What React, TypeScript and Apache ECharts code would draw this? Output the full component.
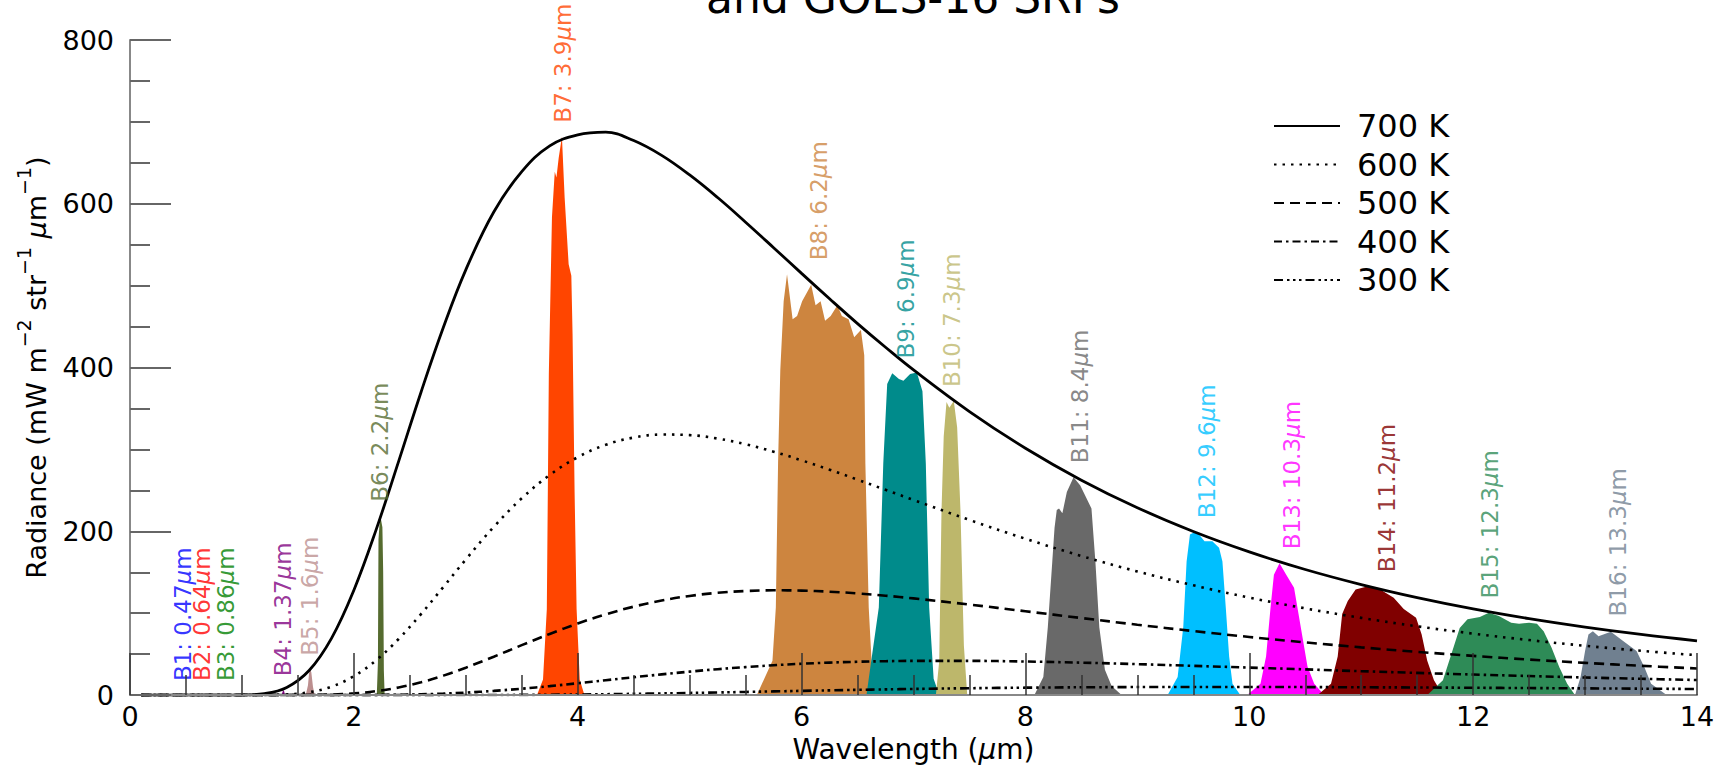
import React, { useEffect, useRef } from "react";
import * as echarts from "echarts";

const FONT = "DejaVu Sans";

// Planck curves (wavelength in µm, radiance)
const wavelength = [0.1, 0.5, 0.8, 1.0, 1.2, 1.4, 1.6, 1.8, 2.0, 2.2, 2.4, 2.6, 2.8, 3.0, 3.25, 3.5, 3.75, 4.0, 4.25, 4.5, 4.75, 5.0, 5.25, 5.5, 5.75, 6.0, 6.25, 6.5, 6.75, 7.0, 7.5, 8.0, 8.5, 9.0, 9.5, 10, 10.5, 11, 11.5, 12, 12.5, 13, 13.5, 14];
const rad700 = [0, 0, 0, 0.14, 1.75, 9.3, 30.0, 69.3, 128.1, 202.4, 285.5, 369.9, 449.1, 519.3, 589.9, 639.3, 670.7, 684.2, 687.4, 677.2, 659.1, 635.2, 607.6, 577.5, 546.4, 515.0, 484.0, 453.7, 424.8, 397.1, 346.3, 301.5, 262.5, 228.8, 199.8, 174.9, 153.4, 135.0, 119.1, 105.3, 93.4, 83.1, 74.1, 66.3];
const rad600 = [0, 0, 0, 0, 0.1, 0.81, 3.5, 10.3, 23.1, 42.7, 68.5, 99.0, 132.1, 165.6, 205.4, 240.3, 268.8, 290.5, 305.6, 314.5, 318.2, 317.5, 313.3, 306.3, 297.3, 286.7, 275.3, 263.1, 250.7, 238.3, 213.9, 190.9, 169.9, 151.0, 134.1, 119.1, 105.9, 94.3, 84.0, 75.1, 67.2, 60.2, 54.1, 48.7];
const rad500 = [0, 0, 0, 0, 0, 0.02, 0.18, 0.72, 2.1, 4.82, 9.28, 15.65, 23.8, 33.5, 46.9, 61.0, 74.7, 87.4, 98.6, 108.0, 115.5, 121.1, 124.9, 127.1, 128.0, 127.6, 126.3, 124.2, 121.4, 118.1, 110.6, 102.4, 94.1, 85.95, 78.2, 71.0, 64.4, 58.3, 52.8, 47.9, 43.4, 39.4, 35.8, 32.5];
const rad400 = [0, 0, 0, 0, 0, 0, 0, 0.01, 0.06, 0.18, 0.46, 0.98, 1.83, 3.04, 5.13, 7.81, 10.97, 14.47, 18.14, 21.8, 25.35, 28.65, 31.64, 34.2, 36.45, 38.26, 39.67, 40.7, 41.42, 41.8, 41.8, 41.0, 39.6, 37.8, 35.7, 33.6, 31.4, 29.2, 27.1, 25.1, 23.3, 21.5, 19.9, 18.4];
const rad300 = [0, 0, 0, 0, 0, 0, 0, 0, 0, 0, 0, 0, 0.03, 0.06, 0.13, 0.25, 0.45, 0.72, 1.08, 1.52, 2.03, 2.6, 3.22, 3.86, 4.52, 5.18, 5.81, 6.42, 6.98, 7.51, 8.4, 9.08, 9.55, 9.83, 9.95, 9.92, 9.79, 9.57, 9.29, 8.96, 8.6, 8.22, 7.84, 7.45];

const curveNames = ["700 K", "600 K", "500 K", "400 K", "300 K"];
const curveValues = [rad700, rad600, rad500, rad400, rad300];
const curveDash: (string | number[])[] = ["solid", [2.5, 6], [10, 6], [8, 4, 2.5, 4], [9, 4, 2.5, 3.5, 2.5, 3.5, 2.5, 4]];

// GOES-16 band responses weighted by the 700 K curve
const B1 = [[0.45, 0], [0.47, 0], [0.49, 0]];
const B2 = [[0.62, 0], [0.64, 0], [0.66, 0]];
const B3 = [[0.84, 0], [0.86, 0], [0.88, 0]];
const B4 = [[1.355, 0], [1.365, 5], [1.375, 6], [1.385, 0]];
const B5 = [[1.57, 0], [1.59, 12], [1.6, 27], [1.61, 31], [1.62, 28], [1.635, 10], [1.65, 0]];
const B6 = [[2.205, 0], [2.215, 40], [2.22, 190], [2.235, 220], [2.255, 205], [2.262, 150], [2.268, 30], [2.275, 0]];
const B7 = [[3.636, 0], [3.69, 19], [3.724, 105], [3.742, 393], [3.77, 584], [3.795, 639], [3.81, 632], [3.83, 656], [3.859, 682], [3.883, 608], [3.919, 526], [3.943, 512], [3.954, 441], [3.972, 249], [3.99, 105], [4.018, 19], [4.06, 0]];
const B8 = [[5.6, 0], [5.74, 42], [5.77, 107], [5.79, 283], [5.81, 397], [5.84, 481], [5.87, 514], [5.92, 459], [5.96, 463], [6.005, 481], [6.086, 501], [6.125, 476], [6.17, 481], [6.21, 457], [6.26, 463], [6.32, 476], [6.36, 463], [6.42, 459], [6.47, 437], [6.53, 446], [6.56, 415], [6.57, 283], [6.6, 107], [6.63, 29], [6.65, 0]];
const B9 = [[6.58, 0], [6.6, 20], [6.69, 107], [6.73, 283], [6.765, 380], [6.81, 393], [6.87, 386], [6.91, 384], [6.97, 392], [7.03, 394], [7.08, 371], [7.11, 283], [7.14, 107], [7.18, 20], [7.23, 0]];
const B10 = [[7.2, 0], [7.23, 42], [7.25, 224], [7.27, 316], [7.295, 358], [7.32, 351], [7.36, 359], [7.39, 327], [7.42, 224], [7.45, 61], [7.48, 0]];
const B11 = [[8.08, 0], [8.16, 22], [8.2, 83], [8.24, 163], [8.26, 204], [8.28, 226], [8.3, 228], [8.33, 222], [8.37, 248], [8.43, 266], [8.49, 256], [8.54, 242], [8.59, 228], [8.625, 163], [8.66, 83], [8.71, 31], [8.77, 11], [8.86, 0]];
const B12 = [[9.27, 0], [9.36, 22], [9.41, 83], [9.44, 163], [9.47, 196], [9.51, 199], [9.54, 198], [9.6, 188], [9.67, 188], [9.73, 180], [9.76, 163], [9.79, 107], [9.82, 47], [9.85, 14], [9.92, 0]];
const B13 = [[9.98, 0], [10.1, 14], [10.15, 47], [10.19, 107], [10.22, 147], [10.27, 161], [10.33, 147], [10.4, 131], [10.43, 107], [10.48, 67], [10.52, 35], [10.58, 14], [10.67, 0]];
const B14 = [[10.61, 0], [10.73, 14], [10.79, 47], [10.83, 99], [10.88, 115], [10.95, 129], [11.06, 133], [11.17, 129], [11.29, 119], [11.38, 105], [11.49, 94.5], [11.54, 74], [11.59, 42], [11.65, 18], [11.73, 0]];
const B15 = [[11.59, 0], [11.73, 18], [11.81, 52], [11.88, 82], [11.95, 92.5], [12.06, 95.4], [12.14, 100.6], [12.23, 96.6], [12.34, 88.4], [12.41, 87.2], [12.5, 88.4], [12.57, 87.2], [12.63, 78], [12.7, 58], [12.77, 34], [12.84, 14], [12.91, 0]];
const B16 = [[12.91, 0], [12.96, 22], [13.0, 54], [13.03, 74], [13.07, 78], [13.12, 72], [13.23, 77.5], [13.34, 66], [13.46, 54], [13.53, 34], [13.59, 14], [13.73, 0]];

const bandData = [B1, B2, B3, B4, B5, B6, B7, B8, B9, B10, B11, B12, B13, B14, B15, B16];
const bandColors = ["#0000FF", "#FF0000", "#008000", "#800080", "#BC8F8F", "#556B2F", "#FF4500", "#CD853F", "#008B8B", "#BDB76B", "#696969", "#00BFFF", "#FF00FF", "#800000", "#2E8B57", "#708090"];
const bandTitles = ["B1: 0.47", "B2: 0.64", "B3: 0.86", "B4: 1.37", "B5: 1.6", "B6: 2.2", "B7: 3.9", "B8: 6.2", "B9: 6.9", "B10: 7.3", "B11: 8.4", "B12: 9.6", "B13: 10.3", "B14: 11.2", "B15: 12.3", "B16: 13.3"];
const bandLabelX = [0.47, 0.64, 0.86, 1.37, 1.61, 2.235, 3.865, 6.16, 6.93, 7.34, 8.49, 9.62, 10.38, 11.23, 12.15, 13.29];
const bandLabelY = [0, 0, 0, 6, 31, 219, 682, 514, 394, 359, 266, 199, 161, 133, 101, 79];

export default function App() {
  const ref = useRef<HTMLDivElement>(null);
  useEffect(() => {
    const chart = echarts.init(ref.current as HTMLDivElement, null, { renderer: "svg" });

    const bandSeries = bandData.map((d, i) => ({
      type: "line",
      name: bandTitles[i],
      data: d,
      symbol: "none",
      smooth: false,
      lineStyle: { width: 0, color: bandColors[i] },
      itemStyle: { color: bandColors[i] },
      areaStyle: { color: bandColors[i], opacity: 1 },
      z: 2,
      silent: true,
    }));

    const curveSeries = curveNames.map((n, k) => ({
      type: "line",
      name: n,
      data: wavelength.map((w, i) => [w, curveValues[k][i]]),
      symbol: "none",
      smooth: 0.4,
      lineStyle: { color: "#000", width: k === 0 ? 2.8 : 2.6, type: curveDash[k] as any },
      itemStyle: { color: "#000" },
      z: 5,
      silent: true,
    }));

    const labelSeries = {
      type: "scatter",
      symbolSize: 0,
      silent: true,
      z: 6,
      data: bandTitles.map((t, i) => ({
        value: [bandLabelX[i], bandLabelY[i]],
        label: {
          show: true,
          position: "top",
          distance: 14,
          rotate: 90,
          align: "left",
          verticalAlign: "middle",
          color: bandColors[i],
          fontFamily: FONT,
          fontSize: 23,
          formatter: "{a|" + t + "}{i|\u00b5}{a|m}",
          rich: {
            a: { fontSize: 23, fontFamily: FONT, color: bandColors[i] },
            i: { fontSize: 23, fontFamily: FONT, fontStyle: "italic", color: bandColors[i] },
          },
        },
      })),
    };

    const option: any = {
      animation: false,
      backgroundColor: "#fff",
      textStyle: { fontFamily: FONT },
      grid: { left: 130, right: 28, top: 40, bottom: 66, containLabel: false },
      graphic: [
        {
          type: "text",
          x: 913,
          y: -3,
          style: { text: "and GOES-16 SRFs", fontSize: 44, fontFamily: FONT, fill: "#000", align: "center", verticalAlign: "middle" },
        },
      ],
      legend: {
        orient: "vertical",
        left: 1268,
        top: 105,
        itemWidth: 66,
        itemHeight: 14,
        itemGap: 6.5,
        data: curveNames,
        selectedMode: false,
        itemStyle: { opacity: 0 },
        textStyle: { fontSize: 32, color: "#000", fontFamily: FONT, lineHeight: 32, padding: [0, 0, 0, 12] },
      },
      xAxis: {
        type: "value",
        min: 0,
        max: 14,
        interval: 2,
        z: 10,
        axisLine: { show: true, lineStyle: { color: "#888", width: 2 } },
        axisTick: { show: true, inside: true, length: 42, lineStyle: { color: "#333", width: 1.5 } },
        minorTick: { show: true, splitNumber: 4, length: 20, lineStyle: { color: "#333", width: 1.5 } },
        splitLine: { show: false },
        minorSplitLine: { show: false },
        axisLabel: { fontSize: 27, color: "#000", margin: 8, fontFamily: FONT },
        name: "{n|Wavelength (}{i|\u00b5}{n|m)}",
        nameLocation: "middle",
        nameGap: 35,
        nameTextStyle: {
          fontSize: 28,
          color: "#000",
          fontFamily: FONT,
          rich: {
            n: { fontSize: 28, fontFamily: FONT, color: "#000" },
            i: { fontSize: 28, fontFamily: FONT, fontStyle: "italic", color: "#000" },
          },
        },
      },
      yAxis: {
        type: "value",
        min: 0,
        max: 800,
        interval: 200,
        z: 10,
        axisLine: { show: true, lineStyle: { color: "#888", width: 2 } },
        axisTick: { show: true, inside: true, length: 41, lineStyle: { color: "#666", width: 2 } },
        minorTick: { show: true, splitNumber: 4, length: 20, lineStyle: { color: "#666", width: 2 } },
        splitLine: { show: false },
        minorSplitLine: { show: false },
        axisLabel: { fontSize: 27, color: "#000", margin: 16, fontFamily: FONT },
        name: "{n|Radiance (mW m}{s|\u22122}{n| str}{s|\u22121}{n| }{i|\u00b5}{n|m}{s|\u22121}{n|)}",
        nameLocation: "middle",
        nameRotate: 90,
        nameGap: 80,
        nameTextStyle: {
          fontSize: 27,
          color: "#000",
          fontFamily: FONT,
          rich: {
            n: { fontSize: 27, fontFamily: FONT, color: "#000", lineHeight: 36, verticalAlign: "bottom" },
            i: { fontSize: 27, fontFamily: FONT, fontStyle: "italic", color: "#000", lineHeight: 36, verticalAlign: "bottom" },
            s: { fontSize: 19, fontFamily: FONT, color: "#000", lineHeight: 19, verticalAlign: "top" },
          },
        },
      },
      series: [...bandSeries, ...curveSeries, labelSeries],
    };

    chart.setOption(option);
    return () => chart.dispose();
  }, []);

  return <div ref={ref} style={{ position: "fixed", left: 0, top: 0, width: 1725, height: 768, background: "#fff" }} />;
}
